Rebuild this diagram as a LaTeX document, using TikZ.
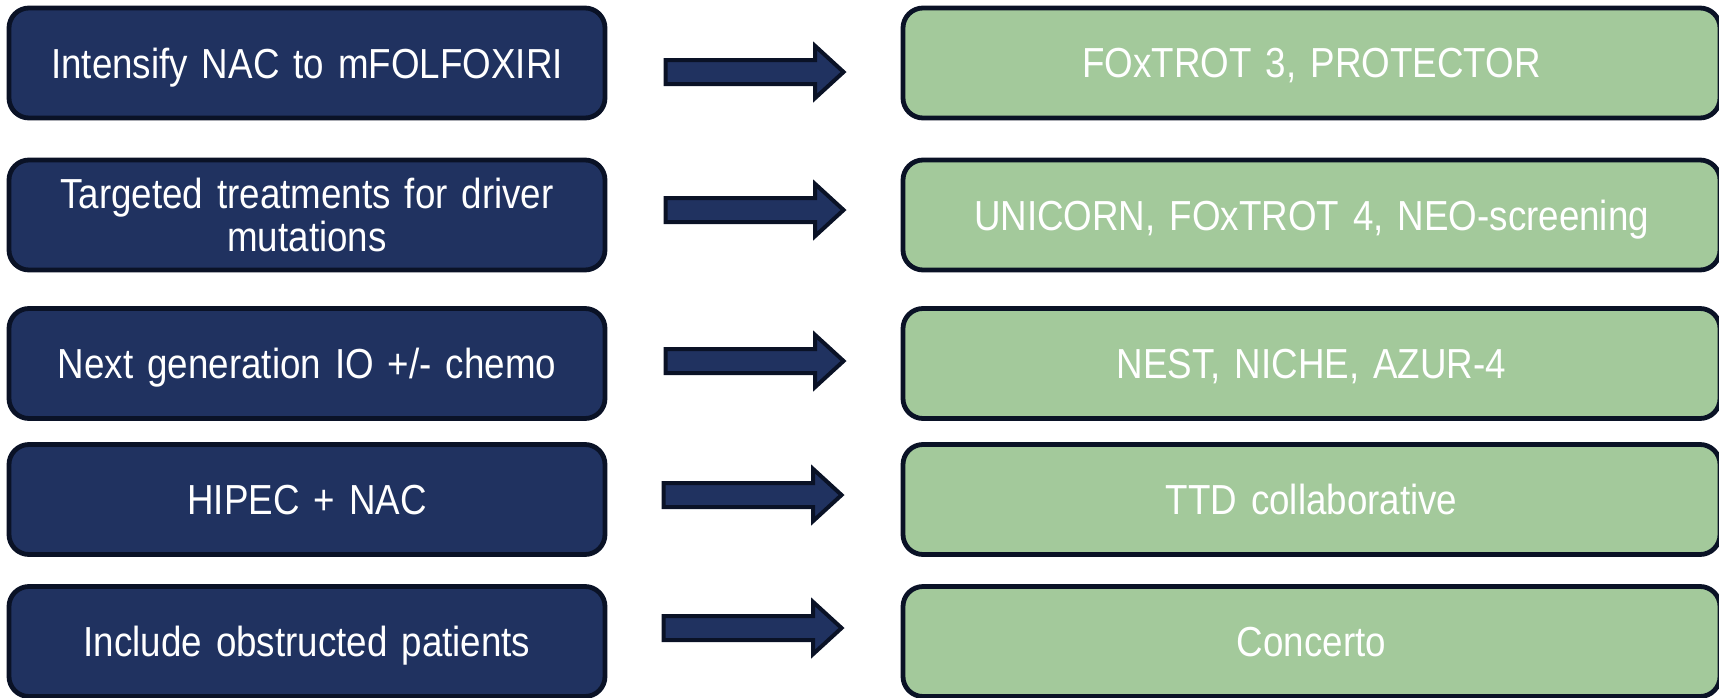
\documentclass[tikz,border=0pt]{standalone}
\usepackage{fontspec}
\setmainfont[FakeStretch=0.875]{Liberation Sans}
\usetikzlibrary{shapes.arrows}
\definecolor{navyfill}{HTML}{203260}
\definecolor{edgedark}{HTML}{0A1226}
\definecolor{greenfill}{HTML}{A3C99B}
\tikzset{
  basebox/.style={draw=edgedark, line width=2.4pt, rounded corners=10pt,
    minimum height=55pt, align=center, text=white, text depth=0pt,
    font={\fontsize{21pt}{21.5pt}\selectfont\spaceskip=4.3pt plus 2pt minus 1pt},
    inner sep=0pt},
  twoline/.style={text depth=},
  leftbox/.style={basebox, fill=navyfill, minimum width=298pt, text width=280pt},
  rightbox/.style={basebox, fill=greenfill, minimum width=408.5pt, text width=400pt},
  blockarrow/.style={single arrow, draw=edgedark, fill=navyfill, line width=2pt,
    minimum height=89pt, minimum width=24pt, inner sep=5pt,
    single arrow head extend=7pt, single arrow tip angle=85, outer sep=0pt}
}
\begin{document}
\begin{tikzpicture}[x=0.5pt,y=-0.5pt]
\useasboundingbox (0,0) rectangle (1719,697);
\clip (0,0) rectangle (1719,697);
% left column
\node[leftbox] (l1) at (307,63) {Intensify NAC to mFOLFOXIRI};
\node[leftbox, twoline] (l2) at (307,215) {Targeted treatments for driver\\mutations};
\node[leftbox] (l3) at (307,363.5) {Next generation IO +/- chemo};
\node[leftbox] (l4) at (307,499.5) {HIPEC + NAC};
\node[leftbox] (l5) at (307,641.5) {Include obstructed patients};
% right column
\node[rightbox] (r1) at (1311.5,63) {FOxTROT 3, PROTECTOR};
\node[rightbox] (r2) at (1311.5,215) {UNICORN, FOxTROT 4, NEO-screening};
\node[rightbox] (r3) at (1311.5,363.5) {NEST, NICHE, AZUR-4};
\node[rightbox] (r4) at (1311.5,499.5) {TTD collaborative};
\node[rightbox] (r5) at (1311.5,641.5) {Concerto};
% arrows
\node[blockarrow] (a1) at (748,72) {};
\node[blockarrow] (a2) at (748,210) {};
\node[blockarrow] (a3) at (748,361) {};
\node[blockarrow] (a4) at (746,495) {};
\node[blockarrow] (a5) at (746,628) {};
\end{tikzpicture}
\end{document}
